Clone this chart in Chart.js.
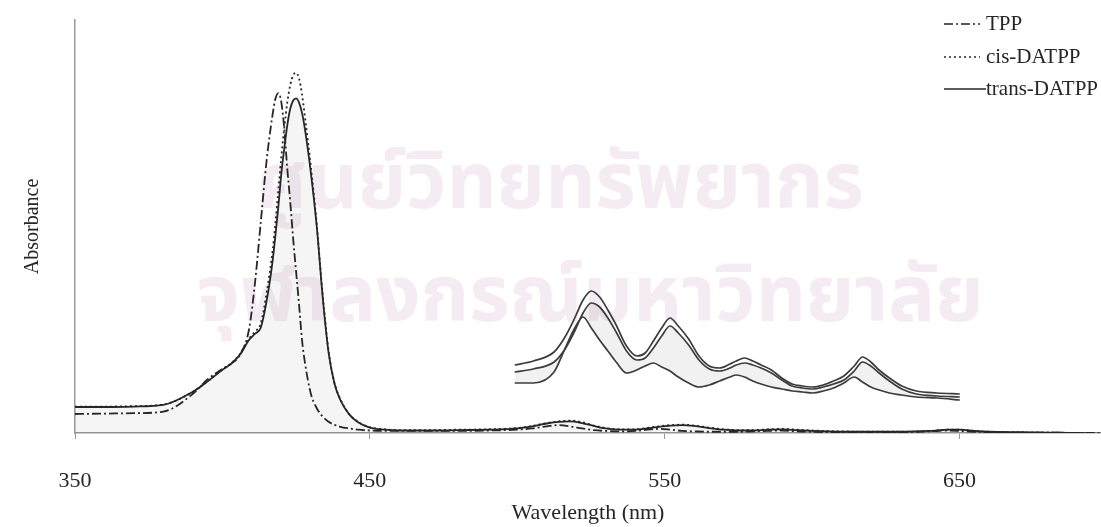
<!DOCTYPE html>
<html>
<head>
<meta charset="utf-8">
<script src="https://cdn.jsdelivr.net/npm/chart.js@4.4.0/dist/chart.umd.min.js"></script>
<style>
  html, body { margin: 0; padding: 0; background: #fff; }
  #wrap { width: 1101px; height: 527px; }
</style>
</head>
<body>
<div id="wrap"><canvas id="spectrum" width="1101" height="527"></canvas></div>
<script>
// full UV-vis spectra, wavelength in nm
const wavelengths = [350, 360, 370, 380, 390, 395, 400, 403, 406, 409, 411, 413, 415, 417, 418, 419, 420, 421, 422, 423,
  424, 425, 426, 427, 428, 430, 432, 434, 436, 438, 440, 443, 446, 450, 455, 460, 470, 480, 490, 500,
  505, 510, 514, 518, 522, 526, 530, 535, 540, 544, 548, 552, 556, 560, 565, 570, 575, 580, 585, 590,
  595, 600, 610, 620, 630, 640, 646, 650, 655, 660, 670, 680, 690, 698];

const tpp = [0.046, 0.047, 0.048, 0.052, 0.095, 0.13, 0.155, 0.168, 0.19, 0.25, 0.36, 0.51, 0.66, 0.77, 0.81, 0.823, 0.8, 0.735, 0.64, 0.56,
  0.47, 0.39, 0.31, 0.225, 0.17, 0.095, 0.06, 0.04, 0.027, 0.02, 0.015, 0.011, 0.008, 0.006, 0.005, 0.005, 0.005, 0.005, 0.006, 0.008,
  0.011, 0.016, 0.019, 0.016, 0.011, 0.007, 0.005, 0.004, 0.005, 0.008, 0.01, 0.008, 0.005, 0.004, 0.003, 0.003, 0.003, 0.004, 0.005, 0.006,
  0.004, 0.003, 0.002, 0.002, 0.002, 0.004, 0.006, 0.005, 0.003, 0.002, 0.001, 0.001, 0, 0];

const cisDatpp = [0.064, 0.064, 0.065, 0.069, 0.1, 0.126, 0.154, 0.169, 0.192, 0.228, 0.245, 0.265, 0.34, 0.44, 0.51, 0.59, 0.67, 0.74, 0.8, 0.842,
  0.866, 0.872, 0.858, 0.82, 0.765, 0.645, 0.505, 0.335, 0.2, 0.122, 0.082, 0.046, 0.027, 0.014, 0.009, 0.007, 0.007, 0.008, 0.009, 0.012,
  0.017, 0.024, 0.028, 0.03, 0.026, 0.018, 0.012, 0.009, 0.009, 0.012, 0.016, 0.019, 0.02, 0.018, 0.013, 0.009, 0.007, 0.007, 0.009, 0.01,
  0.008, 0.006, 0.004, 0.003, 0.003, 0.005, 0.008, 0.008, 0.005, 0.003, 0.002, 0.001, 0, -0.002];

const transDatpp = [0.063, 0.063, 0.064, 0.068, 0.1, 0.125, 0.153, 0.168, 0.19, 0.225, 0.24, 0.255, 0.32, 0.415, 0.48, 0.55, 0.63, 0.69, 0.745, 0.785,
  0.805, 0.81, 0.8, 0.775, 0.735, 0.63, 0.5, 0.33, 0.195, 0.12, 0.08, 0.045, 0.026, 0.013, 0.008, 0.006, 0.006, 0.007, 0.008, 0.011,
  0.016, 0.023, 0.027, 0.028, 0.024, 0.017, 0.011, 0.008, 0.008, 0.011, 0.015, 0.018, 0.019, 0.017, 0.012, 0.008, 0.006, 0.006, 0.008, 0.009,
  0.007, 0.005, 0.003, 0.003, 0.003, 0.005, 0.008, 0.008, 0.005, 0.003, 0.002, 0.001, 0, -0.002];

// enlarged Q-band region shown as the inset
const insetWavelengths = [481, 490, 500, 505, 510, 514, 518, 522, 526, 530, 535, 540, 544, 548, 552, 556, 560, 565, 570, 575,
  580, 585, 588, 592, 596, 600, 605, 610, 615, 620, 625, 630, 635, 640, 645, 649, 653, 657, 662, 668,
  675, 685, 696];

const insetCis = [0.035, 0.039, 0.048, 0.062, 0.082, 0.100, 0.109, 0.103, 0.090, 0.075, 0.054, 0.044, 0.047, 0.059, 0.072, 0.082, 0.074, 0.061, 0.044, 0.034,
  0.032, 0.036, 0.039, 0.042, 0.039, 0.035, 0.030, 0.022, 0.016, 0.014, 0.013, 0.015, 0.019, 0.024, 0.034, 0.043, 0.038, 0.030, 0.022, 0.014,
  0.009, 0.007, 0.006];

const insetTrans = [0.028, 0.031, 0.038, 0.050, 0.069, 0.087, 0.097, 0.093, 0.082, 0.068, 0.049, 0.040, 0.042, 0.052, 0.064, 0.074, 0.067, 0.055, 0.040, 0.031,
  0.029, 0.032, 0.035, 0.037, 0.035, 0.032, 0.027, 0.020, 0.014, 0.012, 0.011, 0.013, 0.016, 0.020, 0.029, 0.038, 0.034, 0.027, 0.019, 0.011,
  0.006, 0.004, 0.003];

const insetTpp = [0.017, 0.017, 0.028, 0.050, 0.072, 0.083, 0.072, 0.060, 0.049, 0.038, 0.027, 0.030, 0.034, 0.037, 0.033, 0.029, 0.023, 0.017, 0.013, 0.015,
  0.019, 0.023, 0.025, 0.023, 0.019, 0.016, 0.013, 0.011, 0.009, 0.008, 0.007, 0.009, 0.012, 0.017, 0.023, 0.018, 0.013, 0.010, 0.007, 0.005,
  0.003, 0.002, 0.000];

const xTicks = [350, 450, 550, 650];
const seriesNames = ['TPP', 'cis-DATPP', 'trans-DATPP'];
const watermarkLines = ['ศูนย์วิทยทรัพยากร', 'จุฬาลงกรณ์มหาวิทยาลัย'];

const toPoints = (xs, ys) => xs.map((x, i) => ({ x: x, y: ys[i] }));

const ink = '#262626';
const serif = "'Liberation Serif', 'Times New Roman', serif";

// draws the faint scan watermark behind the curves
const watermark = {
  id: 'watermark',
  beforeDatasetsDraw(chart) {
    const ctx = chart.ctx;
    ctx.save();
    ctx.fillStyle = 'rgba(210, 160, 200, 0.21)';
    ctx.textAlign = 'center';
    ctx.textBaseline = 'middle';
    ctx.font = "bold 78px 'Noto Sans Thai', 'Loma', 'Garuda', 'Noto Sans', 'DejaVu Sans', sans-serif";
    ctx.fillText(watermarkLines[0], 560, 192);
    ctx.fillText(watermarkLines[1], 590, 305);
    ctx.restore();
  }
};

// legend drawn inside the plot, top right
const cornerLegend = {
  id: 'cornerLegend',
  afterDatasetsDraw(chart) {
    const ctx = chart.ctx;
    const rows = [24, 57, 89];
    ctx.save();
    ctx.font = '21px ' + serif;
    ctx.textBaseline = 'middle';
    ctx.fillStyle = ink;
    seriesNames.forEach((name, i) => {
      const ds = chart.data.datasets[i];
      ctx.strokeStyle = ds.borderColor;
      ctx.lineWidth = 1.6;
      ctx.setLineDash(ds.borderDash || []);
      ctx.beginPath();
      ctx.moveTo(944, rows[i]);
      ctx.lineTo(i === 2 ? 986 : 980, rows[i]);
      ctx.stroke();
      ctx.setLineDash([]);
      ctx.fillText(name, 986, rows[i]);
    });
    ctx.restore();
  }
};

const mainLine = (label, values, dash) => ({
  label: label,
  data: toPoints(wavelengths, values),
  borderColor: ink,
  borderWidth: 1.8,
  borderDash: dash,
  pointRadius: 0,
  cubicInterpolationMode: 'monotone',
  fill: false,
  xAxisID: 'x',
  yAxisID: 'y'
});

const insetLine = (label, values) => ({
  label: label,
  data: toPoints(insetWavelengths, values),
  borderColor: '#3c3c3c',
  borderWidth: 1.7,
  pointRadius: 0,
  cubicInterpolationMode: 'monotone',
  fill: false,
  xAxisID: 'x2',
  yAxisID: 'y2'
});

const datasets = [
  mainLine(seriesNames[0], tpp, [9, 3, 2, 3]),
  mainLine(seriesNames[1], cisDatpp, [2, 3]),
  mainLine(seriesNames[2], transDatpp, []),
  insetLine('inset cis', insetCis),
  insetLine('inset trans', insetTrans),
  insetLine('inset TPP', insetTpp)
];
datasets[2].fill = 'origin';
datasets[2].backgroundColor = 'rgba(0, 0, 0, 0.04)';
datasets[5].fill = '-1';
datasets[5].backgroundColor = 'rgba(0, 0, 0, 0.055)';

new Chart(document.getElementById('spectrum'), {
  type: 'line',
  data: { datasets: datasets },
  plugins: [watermark, cornerLegend],
  options: {
    responsive: false,
    animation: false,
    layout: { padding: { top: 20, right: 0, left: 0, bottom: 0 } },
    plugins: {
      legend: { display: false },
      tooltip: { enabled: false }
    },
    scales: {
      x: {
        type: 'linear',
        min: 350,
        max: 698,
        afterBuildTicks: (s) => { s.ticks = xTicks.map(v => ({ value: v })); },
        afterFit: (s) => { s.height = 94; },
        ticks: { color: ink, font: { family: serif, size: 22 }, padding: 29, maxRotation: 0, autoSkip: false },
        grid: { drawOnChartArea: false, drawTicks: true, tickLength: 6, color: '#9a9a9a' },
        border: { color: '#9a9a9a', width: 1.5 },
        title: { display: true, text: 'Wavelength (nm)', color: ink, font: { family: serif, size: 22 }, padding: { top: 0, bottom: 1 } }
      },
      y: {
        min: 0,
        max: 1,
        afterFit: (s) => { s.width = 75; },
        ticks: { display: false },
        grid: { drawOnChartArea: false, drawTicks: false },
        border: { color: '#9a9a9a', width: 1.5 },
        title: { display: true, text: 'Absorbance', color: ink, font: { family: serif, size: 20 }, padding: { top: 21, bottom: 0 } }
      },
      x2: { type: 'linear', display: false, min: 268.6, max: 764.2 },
      y2: { display: false, min: -0.033, max: 0.38 }
    }
  }
});
</script>
</body>
</html>
